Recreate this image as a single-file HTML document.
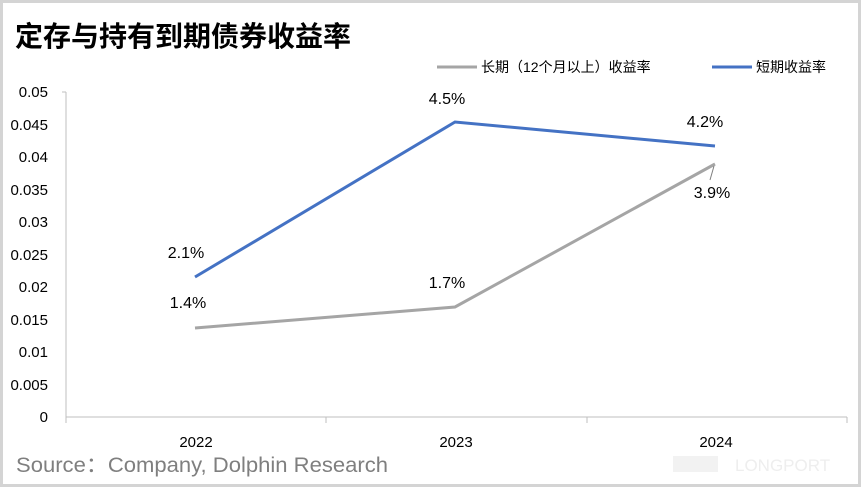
<!DOCTYPE html>
<html><head><meta charset="utf-8"><style>
body{margin:0;background:#fff}
#c{position:relative;width:861px;height:487px;box-sizing:border-box;border:3px solid #d4d4d4;background:#fff;overflow:hidden;font-family:"Liberation Sans","Noto Sans CJK SC",sans-serif}
</style></head><body><div id="c">
<svg width="855" height="481" viewBox="3 3 855 481" style="position:absolute;left:0;top:0" font-family="Liberation Sans, Noto Sans CJK SC, sans-serif">
<text x="15" y="46" font-size="28" font-weight="bold" fill="#000">定存与持有到期债券收益率</text>
<line x1="437" y1="67" x2="477" y2="67" stroke="#a5a5a5" stroke-width="3"/>
<text x="481" y="72" font-size="14" fill="#000">长期（12个月以上）收益率</text>
<line x1="712" y1="67" x2="752" y2="67" stroke="#4472c4" stroke-width="3"/>
<text x="756" y="72" font-size="14" fill="#000">短期收益率</text>
<g font-size="15" fill="#000" text-anchor="end">
<text x="48" y="97">0.05</text><text x="48" y="130">0.045</text><text x="48" y="162">0.04</text>
<text x="48" y="195">0.035</text><text x="48" y="227">0.03</text><text x="48" y="260">0.025</text>
<text x="48" y="292">0.02</text><text x="48" y="325">0.015</text><text x="48" y="357">0.01</text>
<text x="48" y="390">0.005</text><text x="48" y="422">0</text>
</g>
<g stroke="#bfbfbf" stroke-width="1">
<line x1="66" y1="92" x2="66" y2="417"/><line x1="66" y1="417" x2="847" y2="417"/>
<line x1="66" y1="417" x2="66" y2="423"/><line x1="326" y1="417" x2="326" y2="423"/>
<line x1="587" y1="417" x2="587" y2="423"/><line x1="847" y1="417" x2="847" y2="423"/>
<line x1="62" y1="92" x2="66" y2="92"/>
</g>
<g font-size="15" fill="#000" text-anchor="middle">
<text x="196" y="447">2022</text><text x="456" y="447">2023</text><text x="716" y="447">2024</text>
</g>
<polyline points="195,328 455,307 715,164" fill="none" stroke="#a5a5a5" stroke-width="3"/>
<polyline points="195,277 455,122 715,146" fill="none" stroke="#4472c4" stroke-width="3"/>
<line x1="710" y1="180" x2="714" y2="166" stroke="#7f7f7f" stroke-width="1"/>
<g font-size="16" fill="#000" text-anchor="middle">
<text x="186" y="258">2.1%</text><text x="447" y="104">4.5%</text><text x="705" y="127">4.2%</text>
<text x="188" y="308">1.4%</text><text x="447" y="288">1.7%</text><text x="712" y="198">3.9%</text>
</g>
<text x="16" y="472" font-size="21" fill="#7f7f7f" textLength="372" lengthAdjust="spacingAndGlyphs">Source：Company, Dolphin Research</text>
<rect x="673" y="456" width="45" height="16" fill="#f2f2f2"/>
<text x="735" y="471" font-size="17" fill="#eeeeee">LONGPORT</text>
</svg>
</div></body></html>
